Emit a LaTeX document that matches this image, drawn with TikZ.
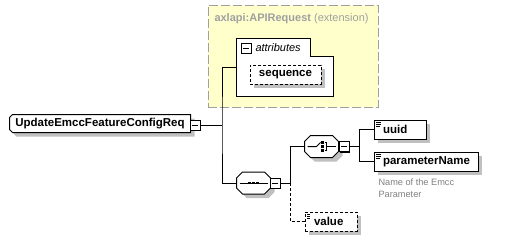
\documentclass[tikz,border=0pt]{standalone}
\usepackage{fontspec}
\setmainfont{Liberation Sans}
\usetikzlibrary{calc,shadows}
\definecolor{extfill}{HTML}{FFFFCC}
\definecolor{extdraw}{HTML}{A0A0A0}
\definecolor{shade}{HTML}{C0C0C0}
\definecolor{note}{HTML}{808080}
% outline of a compositor (all four corners cut) around node #1
\newcommand\compoutline[2]{%
  ($(#1.north west)+(#2,0)$) -- ($(#1.north east)+(-#2,0)$) -- ($(#1.north east)+(0,#2)$) --
  ($(#1.south east)+(0,-#2)$) -- ($(#1.south east)+(-#2,0)$) -- ($(#1.south west)+(#2,0)$) --
  ($(#1.south west)+(0,-#2)$) -- ($(#1.north west)+(0,#2)$) -- cycle}
% outline of the root element (left corners cut) around node #1
\newcommand\rootoutline[2]{%
  ($(#1.north west)+(#2,0)$) -- (#1.north east) -- (#1.south east) -- ($(#1.south west)+(#2,0)$) --
  ($(#1.south west)+(0,-#2)$) -- ($(#1.north west)+(0,#2)$) -- cycle}
\tikzset{
  every path/.style={line width=1pt},
  shd/.style={drop shadow={shadow xshift=4pt,shadow yshift=-4pt,fill=shade,opacity=1}},
  bold/.style={font=\fontsize{11.5}{12}\selectfont\bfseries},
  elem/.style={draw=black,fill=white,shd,inner sep=0pt,bold,align=left,
    path picture={\draw[line width=0.8pt]
      ([xshift=2pt,yshift=-2.5pt]path picture bounding box.north west) -- ++(5pt,0)
      ([xshift=2pt,yshift=-4.5pt]path picture bounding box.north west) -- ++(5pt,0)
      ([xshift=2pt,yshift=-6.5pt]path picture bounding box.north west) -- ++(4pt,0);}},
  optelem/.style={elem,dash pattern=on 3pt off 2pt},
  holder/.style={inner sep=0pt},
  minusbox/.style={draw=black,fill=white,minimum size=10pt,inner sep=0pt,
    drop shadow={shadow xshift=1pt,shadow yshift=-1pt,fill=black,opacity=1},
    path picture={\draw ([xshift=2pt]path picture bounding box.west) -- ([xshift=-2pt]path picture bounding box.east);}},
  conn/.style={draw=black},
  optconn/.style={draw=black,dash pattern=on 3pt off 2pt},
}
\begin{document}
\begin{tikzpicture}[x=1pt,y=-1pt]
\useasboundingbox (0,0) rectangle (507,241);
% base type region
\node[draw=extdraw,fill=extfill,dash pattern=on 9pt off 3pt,minimum width=170pt,minimum height=102pt,
  inner sep=0pt] (ext) at (293,56) {};
\node[anchor=west,inner sep=0pt,text=extdraw,font=\fontsize{11}{12}\selectfont] (exttitle) at (214,19)
  {\textbf{axlapi:APIRequest} (extension)};
% attribute group
\draw[fill=white] (236,38) -- (310,38) -- (310,56) -- (333,56) -- (333,96) -- (236,96) -- cycle;
\coordinate (attrL) at (236,67);
\node[minusbox] (attrminus) at (246,48) {};
\node[anchor=west,inner sep=0pt,font=\fontsize{11}{12}\selectfont\itshape] (attrtext) at (255,48) {attributes};
\node[draw=black,fill=white,dash pattern=on 3pt off 2pt,shd,inner sep=0pt,minimum width=71pt,minimum height=19pt,
  bold] (seqattr) at (285.5,74.5) {sequence};
% root element
\node[holder,minimum width=180pt,minimum height=17pt] (root) at (100,123.5) {};
\draw[fill=white,shd] \rootoutline{root}{3};
\node[holder,bold] (roottext) at (root.center) {UpdateEmccFeatureConfigReq};
\node[minusbox] (rootminus) at (195,125) {};
% sequence compositor
\node[holder,minimum width=33pt,minimum height=21pt] (seq) at (253.5,183) {};
\draw[fill=white,shd] \compoutline{seq}{6};
\draw ([xshift=3pt]seq.west) -- ([xshift=-3pt]seq.east);
\foreach \dx in {-4,0,4}
  \fill ([xshift=\dx pt]seq.center) ++(-1.3,-1.3) rectangle ++(2.6,2.6);
\node[minusbox] (seqminus) at (275,183) {};
% choice compositor
\node[holder,minimum width=33pt,minimum height=21pt] (ch) at (321.5,146.5) {};
\draw[fill=white,shd] \compoutline{ch}{6};
\begin{scope}[shift={(ch.center)}]
  \draw ([xshift=3pt]ch.west) -- (-5,0) -- (-1,-4);
  \foreach \dy in {-4,0,4} \fill (1,\dy) ++(-1.2,-1.2) rectangle ++(2.4,2.4);
  \draw (3,-4) -- (5,-4) -- (5,4) -- (3,4) (5,0) -- ([xshift=-3pt]ch.east);
\end{scope}
\node[minusbox] (chminus) at (344,146.5) {};
% child elements
\node[elem,text width=52pt,minimum height=19pt] (uuid) at (400,129.5) {\hspace*{9pt}uuid};
\node[elem,text width=104pt,minimum height=19pt] (param) at (426,161.5) {\hspace*{9pt}parameterName};
\node[optelem,text width=52pt,minimum height=19pt] (value) at (331,221.5) {\hspace*{9pt}value};
\node[anchor=north west,inner sep=0pt,text=note,align=left,font=\fontsize{9.2}{12.5}\selectfont] (doc)
  at (378,178) {Name of the Emcc\\Parameter};
% connectors
\coordinate (j1) at (222,125);
\coordinate (j2) at (290,183);
\coordinate (j3) at (359,146.5);
\draw[conn] (rootminus.east) -- (j1);
\draw[conn] (attrL) -| (j1) |- (seq.west);
\draw[conn] (seqminus.east) -- (j2);
\draw[conn] (j2) |- (ch.west);
\draw[optconn] (j2) |- (value.west);
\draw[conn] (chminus.east) -- (j3);
\draw[conn] (j3) |- (uuid.west);
\draw[conn] (j3) |- (param.west);
\end{tikzpicture}
\end{document}
